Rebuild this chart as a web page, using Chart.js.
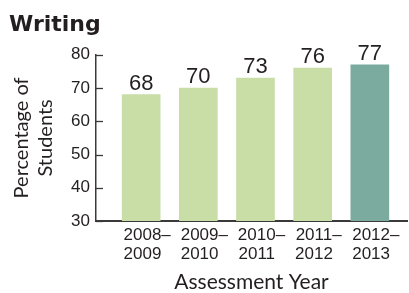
<!DOCTYPE html>
<html>
<head>
<meta charset="utf-8">
<script src="https://cdn.jsdelivr.net/npm/chart.js@4.4.0/dist/chart.umd.min.js"></script>
<style>
  html, body { margin: 0; padding: 0; background: #fff; }
  #wrap { width: 409px; height: 293px; }
</style>
</head>
<body>
<div id="wrap"><canvas id="grafica" width="409" height="293"></canvas></div>
<script>
// data
var years = [['2008\u2013', '2009\u2007'], ['2009\u2013', '2010\u2007'], ['2010\u2013', '2011\u2007'], ['2011\u2013', '2012\u2007'], ['2012\u2013', '2013\u2007']];
var values = [68, 70, 73, 76, 77];
var barColors = ['#c9dda7', '#c9dda7', '#c9dda7', '#c9dda7', '#7bab9f'];
var yMin = 30, yMax = 80, yStep = 5;

var ink = '#231f20';
var axisColor = '#3a3a3a';

// short ticks drawn inside the plot + value labels over bars
var plugin = {
  id: 'extras',
  afterDraw: function (chart) {
    var ctx = chart.ctx;
    var y = chart.scales.y;
    var left = chart.chartArea.left;
    ctx.save();
    ctx.strokeStyle = axisColor;
    ctx.lineWidth = 1.3;
    y.ticks.forEach(function (t) {
      var py = Math.round(y.getPixelForValue(t.value)) + 0.5;
      ctx.beginPath();
      ctx.moveTo(left, py);
      ctx.lineTo(left + 7, py);
      ctx.stroke();
    });
    var meta = chart.getDatasetMeta(0);
    ctx.fillStyle = ink;
    ctx.font = '22px "Liberation Sans", Arial, sans-serif';
    ctx.textAlign = 'center';
    ctx.textBaseline = 'alphabetic';
    meta.data.forEach(function (bar, i) {
      ctx.fillText(values[i], bar.x, bar.y - 5);
    });
    ctx.restore();
  }
};

var canvas = document.getElementById('grafica');
var myChart = new Chart(canvas, {
  type: 'bar',
  data: {
    datasets: [{
      data: values.map(function (v, i) { return { x: i, y: v }; }),
      backgroundColor: barColors,
      borderWidth: 0,
      barThickness: 38
    }]
  },
  options: {
    responsive: false,
    animation: false,
    layout: { padding: { left: 9, right: 2, top: 4, bottom: 0 } },
    plugins: {
      legend: { display: false },
      tooltip: { enabled: false },
      title: {
        display: true,
        text: 'Writing',
        align: 'start',
        color: ink,
        font: { family: '"DejaVu Sans"', weight: 'bold', size: 22, lineHeight: 1.2 },
        padding: { top: 8, bottom: 16.4 }
      }
    },
    scales: {
      x: {
        type: 'linear',
        offset: false,
        min: -0.79,
        max: 4.65,
        afterBuildTicks: function (scale) {
          scale.ticks = years.map(function (y, i) { return { value: i }; });
        },
        afterFit: function (scale) { scale.height = 72; },
        grid: { display: false, drawTicks: false },
        border: { display: true, color: axisColor, width: 2 },
        ticks: {
          color: ink,
          font: { family: '"Liberation Sans", Arial, sans-serif', size: 17, lineHeight: 1.1 },
          padding: 5,
          labelOffset: 6,
          maxRotation: 0,
          autoSkip: false,
          callback: function (v) { return years[v]; }
        },
        title: {
          display: true,
          text: 'Assessment Year',
          color: ink,
          font: { family: 'Lato', size: 21, lineHeight: 1.0 },
          padding: { top: 8, bottom: 0 }
        }
      },
      y: {
        min: yMin,
        max: yMax,
        afterFit: function (scale) { scale.width = 87; },
        grid: { display: false, drawTicks: false },
        border: { display: true, color: axisColor, width: 1.5 },
        ticks: {
          stepSize: yStep,
          color: ink,
          padding: 6,
          font: { family: '"Liberation Sans", Arial, sans-serif', size: 17 },
          callback: function (v) { return v % 10 === 0 ? v : ''; }
        },
        title: {
          display: true,
          text: ['Percentage of', 'Students'],
          color: ink,
          font: { family: 'Lato', size: 20, lineHeight: 1.2 },
          padding: { top: 1, bottom: 0 }
        }
      }
    }
  },
  plugins: [plugin]
});
</script>
</body>
</html>
